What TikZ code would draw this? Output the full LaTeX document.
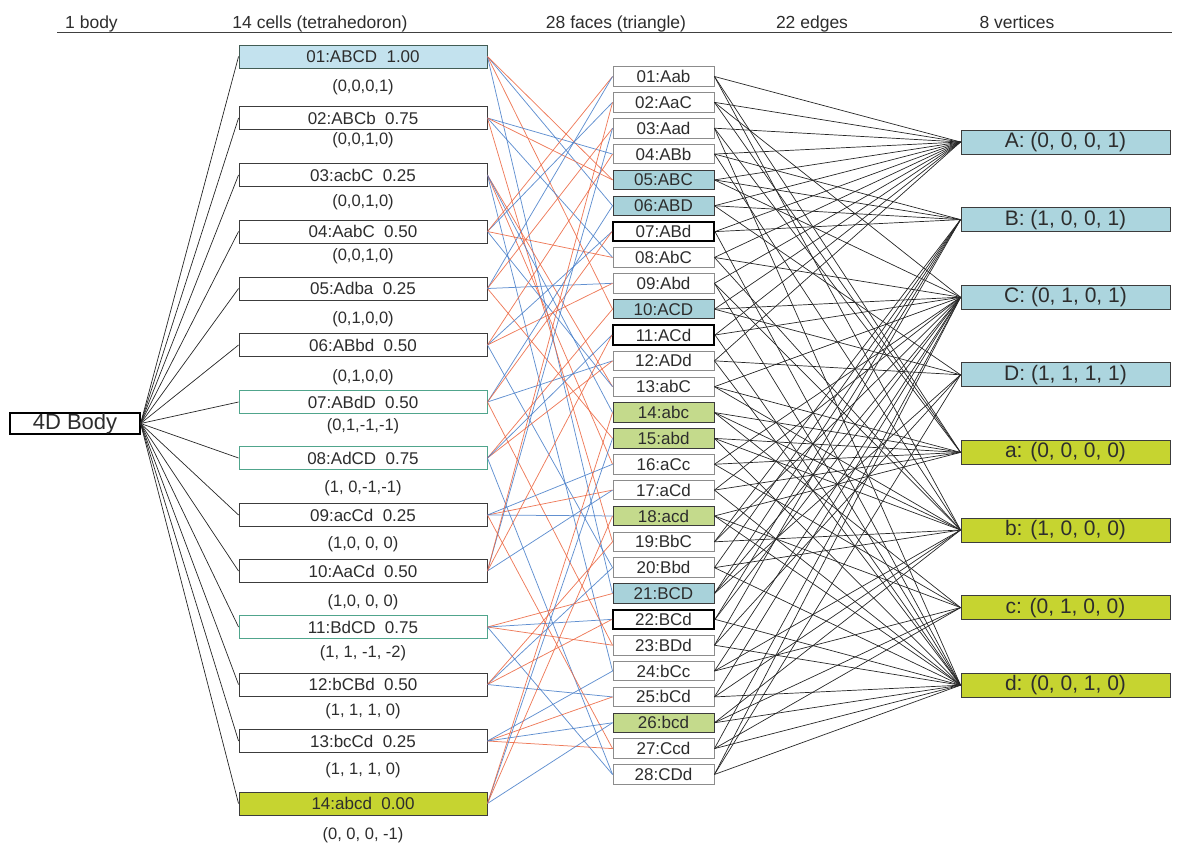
\documentclass[tikz,border=0pt]{standalone}
\usepackage{fontspec}
\setmainfont{Liberation Sans}
\definecolor{txt}{RGB}{45,45,45}
\definecolor{boxline}{RGB}{60,60,60}
\definecolor{tealline}{RGB}{80,165,140}
\definecolor{cellblue}{RGB}{195,226,238}
\definecolor{faceblue}{RGB}{168,210,218}
\definecolor{vertblue}{RGB}{172,213,222}
\definecolor{yellowgreen}{RGB}{198,212,48}
\definecolor{facegreen}{RGB}{196,218,140}
\definecolor{facegray}{RGB}{140,140,140}
\definecolor{posline}{RGB}{70,125,200}
\definecolor{negline}{RGB}{235,100,62}
\begin{document}
\begin{tikzpicture}[x=1pt,y=-1pt,
  every node/.style={text=txt, inner sep=0pt},
  head/.style={font=\fontsize{17.5}{20}\selectfont, anchor=base},
  cellbox/.style={draw=boxline, line width=0.9pt, fill=white, minimum width=248pt, minimum height=23pt, font=\fontsize{17}{20}\selectfont},
  cplain/.style={cellbox},
  cblue/.style={cellbox, fill=cellblue, draw=boxline!70!tealline},
  cteal/.style={cellbox, draw=tealline},
  cgreen/.style={cellbox, fill=yellowgreen},
  coordlab/.style={font=\fontsize{16.5}{20}\selectfont},
  facebox/.style={draw=facegray, line width=0.9pt, fill=white, minimum width=101pt, minimum height=19.5pt, font=\fontsize{17}{20}\selectfont},
  fplain/.style={facebox},
  fblue/.style={facebox, fill=faceblue, draw=boxline},
  fgreen/.style={facebox, fill=facegreen, draw=boxline},
  fbold/.style={facebox, draw=black, line width=2pt},
  vertbox/.style={draw=boxline, line width=0.9pt, minimum width=209pt, minimum height=24pt, font=\fontsize{21}{24}\selectfont},
  vblue/.style={vertbox, fill=vertblue},
  vgreen/.style={vertbox, fill=yellowgreen},
  plus/.style={draw=posline, line width=0.75pt, opacity=0.85},
  minus/.style={draw=negline, line width=0.75pt, opacity=0.85},
  link/.style={draw=black!85, line width=0.7pt},
]
\useasboundingbox (0,0) rectangle (1187,846);

% column headings
\node[head] (h1) at (91.5,28) {1 body};
\node[head] (h2) at (320,28) {14 cells (tetrahedoron)};
\node[head] (h3) at (616,28) {28 faces (triangle)};
\node[head] (h4) at (812,28) {22 edges};
\node[head] (h5) at (1017,28) {8 vertices};
\draw[line width=1.2pt, black!75] (57,32.5) -- (1172,32.5);

% the 4D body
\node[draw=black, line width=1.2pt, fill=white, minimum width=130pt, minimum height=21pt,
      font=\fontsize{22}{24}\selectfont] (body) at (75,423.5) {4D Body};

% cells (tetrahedra) with their coordinates
\foreach \i/\y/\lab/\val/\cy/\crd/\sty in {
  1/56.5/01:ABCD/1.00/87/{(0,0,0,1)}/cblue,
  2/118/02:ABCb/0.75/140/{(0,0,1,0)}/cplain,
  3/175/03:acbC/0.25/202/{(0,0,1,0)}/cplain,
  4/231.5/04:AabC/0.50/256/{(0,0,1,0)}/cplain,
  5/288.5/05:Adba/0.25/319/{(0,1,0,0)}/cplain,
  6/345/06:ABbd/0.50/377/{(0,1,0,0)}/cplain,
  7/402/07:ABdD/0.50/426/{(0,1,-1,-1)}/cteal,
  8/458/08:AdCD/0.75/488/{(1, 0,-1,-1)}/cteal,
  9/515/09:acCd/0.25/544/{(1,0, 0, 0)}/cplain,
  10/571/10:AaCd/0.50/602/{(1,0, 0, 0)}/cplain,
  11/627/11:BdCD/0.75/653/{(1, 1, -1, -2)}/cteal,
  12/684.5/12:bCBd/0.50/711/{(1, 1, 1, 0)}/cplain,
  13/741/13:bcCd/0.25/770/{(1, 1, 1, 0)}/cplain,
  14/803.5/14:abcd/0.00/835/{(0, 0, 0, -1)}/cgreen}
{
  \node[\sty] (c\i) at (363,\y) {\lab\hspace{0.55em}\val};
  \node[coordlab] (k\i) at (363,\cy) {\crd};
  \draw[link] (body.east) -- (c\i.west);
}

% faces (triangles)
\foreach \j/\lab/\sty in {
  1/01:Aab/fplain, 2/02:AaC/fplain, 3/03:Aad/fplain, 4/04:ABb/fplain,
  5/05:ABC/fblue, 6/06:ABD/fblue, 7/07:ABd/fbold, 8/08:AbC/fplain,
  9/09:Abd/fplain, 10/10:ACD/fblue, 11/11:ACd/fbold, 12/12:ADd/fplain,
  13/13:abC/fplain, 14/14:abc/fgreen, 15/15:abd/fgreen, 16/16:aCc/fplain,
  17/17:aCd/fplain, 18/18:acd/fgreen, 19/19:BbC/fplain, 20/20:Bbd/fplain,
  21/21:BCD/fblue, 22/22:BCd/fbold, 23/23:BDd/fplain, 24/24:bCc/fplain,
  25/25:bCd/fplain, 26/26:bcd/fgreen, 27/27:Ccd/fplain, 28/28:CDd/fplain}
{
  \pgfmathsetmacro\fy{76.5+25.85*(\j-1)}
  \node[\sty] (f\j) at (663.5,\fy) {\lab};
}

% vertices
\foreach \v/\y/\lab/\sty in {
  A/142/{A: (0, 0, 0, 1)}/vblue, B/219.6/{B: (1, 0, 0, 1)}/vblue,
  C/297.2/{C: (0, 1, 0, 1)}/vblue, D/374.8/{D: (1, 1, 1, 1)}/vblue,
  a/452.4/{a: (0, 0, 0, 0)}/vgreen, b/530/{b: (1, 0, 0, 0)}/vgreen,
  c/607.6/{c: (0, 1, 0, 0)}/vgreen, d/685.2/{d: (0, 0, 1, 0)}/vgreen}
{
  \node[\sty] (v\v) at (1065.5,\y) {\lab};
}

% boundary of each cell: its four faces, coloured by orientation sign
\foreach \i/\p/\sp/\q/\sq/\r/\sr/\s/\ss in {
  1/21/plus/10/minus/6/plus/5/minus,
  2/19/minus/8/plus/4/plus/5/minus,
  3/24/plus/13/minus/16/minus/14/plus,
  4/13/plus/8/minus/2/plus/1/minus,
  5/15/minus/1/plus/3/minus/9/plus,
  6/20/plus/9/minus/7/plus/4/minus,
  7/23/minus/12/plus/6/plus/7/minus,
  8/28/plus/10/minus/12/minus/11/plus,
  9/27/minus/17/minus/18/plus/16/plus,
  10/17/plus/11/minus/3/plus/2/minus,
  11/28/plus/21/minus/23/minus/22/plus,
  12/22/minus/20/plus/25/plus/19/minus,
  13/27/minus/25/minus/26/plus/24/plus,
  14/26/plus/18/minus/15/plus/14/minus}
{
  \draw[\sp] (c\i.east) -- (f\p.west);
  \draw[\sq] (c\i.east) -- (f\q.west);
  \draw[\sr] (c\i.east) -- (f\r.west);
  \draw[\ss] (c\i.east) -- (f\s.west);
}

% each face joined to its three vertices
\foreach \j/\p/\q/\r in {
  1/A/a/b, 2/A/a/C, 3/A/a/d, 4/A/B/b, 5/A/B/C, 6/A/B/D, 7/A/B/d,
  8/A/b/C, 9/A/b/d, 10/A/C/D, 11/A/C/d, 12/A/D/d, 13/a/b/C, 14/a/b/c,
  15/a/b/d, 16/a/C/c, 17/a/C/d, 18/a/c/d, 19/B/b/C, 20/B/b/d, 21/B/C/D,
  22/B/C/d, 23/B/D/d, 24/b/C/c, 25/b/C/d, 26/b/c/d, 27/C/c/d, 28/C/D/d}
{
  \draw[link] (f\j.east) -- (v\p.west);
  \draw[link] (f\j.east) -- (v\q.west);
  \draw[link] (f\j.east) -- (v\r.west);
}
\end{tikzpicture}
\end{document}
